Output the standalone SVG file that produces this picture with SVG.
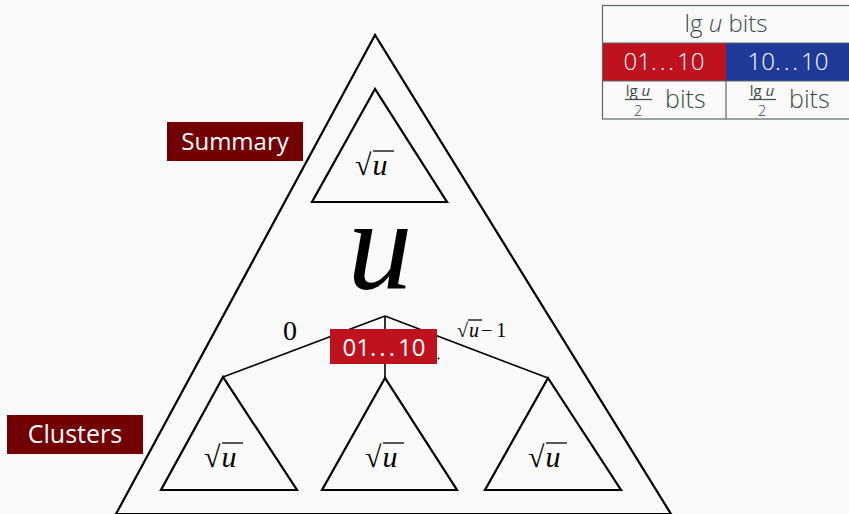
<svg xmlns="http://www.w3.org/2000/svg" width="849" height="514" viewBox="0 0 849 514">
<style>
.tri{fill:none;stroke:#000;stroke-width:2.2;stroke-linejoin:miter}
.edge{fill:none;stroke:#000;stroke-width:1.6}
.math{font-family:"Liberation Serif",serif;fill:#000}
.it{font-style:italic}
.lbl{font-family:"Open Sans","Noto Sans",sans-serif;fill:#fff;font-size:24px;font-weight:400}
.tbl{font-family:"Open Sans","Noto Sans",sans-serif;fill:#3b4a4a;font-weight:300}
.vin{stroke:#000;stroke-width:1.3}
.dots{letter-spacing:3px}
</style>
<rect width="849" height="514" fill="#fafafa"/>
<g id="universe">
<polygon class="tri" points="375,35 116,514 671,514"/>
<text class="math it" x="380" y="288" font-size="130" text-anchor="middle">u</text>
</g>
<g id="summary-tri">
<polygon class="tri" points="375,89 312,202 447,202"/>
<line class="vin" x1="373" y1="151" x2="394" y2="151"/>
<text class="math" x="355" y="175" font-size="30">√<tspan class="it" dx="1">u</tspan></text>
</g>
<g id="cluster-0">
<polygon class="tri" points="223,377 161,490 297,490"/>
<line class="vin" x1="222" y1="443" x2="243" y2="443"/>
<text class="math" x="204" y="467" font-size="30">√<tspan class="it" dx="1">u</tspan></text>
</g>
<g id="cluster-mid">
<polygon class="tri" points="385,378 322,490 457,490"/>
<line class="vin" x1="383" y1="443" x2="404" y2="443"/>
<text class="math" x="365" y="467" font-size="30">√<tspan class="it" dx="1">u</tspan></text>
</g>
<g id="cluster-last">
<polygon class="tri" points="548,378 485,490 621,490"/>
<line class="vin" x1="546" y1="443" x2="567" y2="443"/>
<text class="math" x="528" y="467" font-size="30">√<tspan class="it" dx="1">u</tspan></text>
</g>
<g id="connectors">
<line class="edge" x1="385" y1="316" x2="223" y2="377"/>
<line class="edge" x1="385" y1="316" x2="385" y2="378"/>
<line class="edge" x1="385" y1="316" x2="548" y2="378"/>
<circle cx="438.5" cy="358.5" r="1" fill="#000"/>
</g>
<g id="edge-labels">
<text class="math" x="290" y="340" font-size="28" text-anchor="middle">0</text>
<line class="vin" x1="468" y1="320" x2="482" y2="320" stroke-width="1"/>
<text class="math" x="457" y="337" font-size="20">√<tspan class="it" dx="1">u</tspan><tspan dx="2">−</tspan><tspan dx="4">1</tspan></text>
</g>
<g id="index-label">
<rect x="330" y="329" width="107" height="35" fill="#c0111f"/>
<text class="lbl" x="384" y="356" text-anchor="middle">01<tspan class="dots">...</tspan>10</text>
</g>
<g id="summary-label">
<rect x="167" y="122" width="136" height="39" fill="#720000"/>
<text class="lbl" x="235" y="150" text-anchor="middle" style="font-size:24px">Summary</text>
</g>
<g id="clusters-label">
<rect x="7" y="415" width="136" height="39" fill="#720000"/>
<text class="lbl" x="75" y="443" text-anchor="middle" style="font-size:25px">Clusters</text>
</g>
<g id="bit-table">
<rect x="603" y="43" width="123" height="38" fill="#c0111f"/>
<rect x="726" y="43" width="123" height="38" fill="#1f3a99"/>
<rect x="602.5" y="5.5" width="250" height="113.5" fill="none" stroke="#5a6868" stroke-width="1.2"/>
<line x1="602.5" y1="43" x2="849" y2="43" stroke="#5a6868" stroke-width="1.2"/>
<line x1="602.5" y1="81" x2="849" y2="81" stroke="#5a6868" stroke-width="1.2"/>
<line x1="726" y1="81" x2="726" y2="119" stroke="#5a6868" stroke-width="1.2"/>
<text class="tbl" x="726" y="32" font-size="24" text-anchor="middle">lg <tspan font-style="italic">u</tspan> bits</text>
<text class="tbl" x="664" y="70" font-size="24" text-anchor="middle" style="fill:#fff">01<tspan class="dots">...</tspan>10</text>
<text class="tbl" x="788" y="70" font-size="24" text-anchor="middle" style="fill:#fff">10<tspan class="dots">...</tspan>10</text>
<text class="tbl" x="638" y="96" font-size="15" text-anchor="middle" style="font-weight:400">lg <tspan font-style="italic">u</tspan></text>
<line x1="625" y1="99.5" x2="652" y2="99.5" stroke="#3b4a4a" stroke-width="1.2"/>
<text class="tbl" x="638" y="116" font-size="15" text-anchor="middle">2</text>
<text class="tbl" x="665" y="108" font-size="25">bits</text>
<text class="tbl" x="762" y="96" font-size="15" text-anchor="middle" style="font-weight:400">lg <tspan font-style="italic">u</tspan></text>
<line x1="749" y1="99.5" x2="776" y2="99.5" stroke="#3b4a4a" stroke-width="1.2"/>
<text class="tbl" x="762" y="116" font-size="15" text-anchor="middle">2</text>
<text class="tbl" x="789" y="108" font-size="25">bits</text>
</g>
</svg>
